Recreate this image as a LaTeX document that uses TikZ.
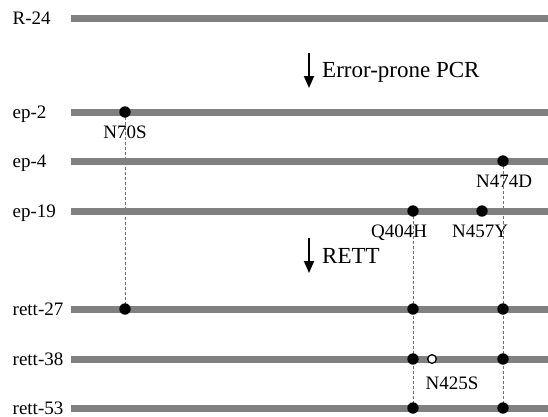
\documentclass[tikz,border=0pt]{standalone}
\usepackage{fontspec}
\setmainfont{Liberation Serif}
\usetikzlibrary{arrows.meta}
\definecolor{barc}{HTML}{808080}
\definecolor{guidec}{HTML}{707070}
\begin{document}
\begin{tikzpicture}[x=1pt,y=-1pt,
  bar/.style={line width=7pt, draw=barc},
  lbl/.style={anchor=base west, inner sep=0pt, font=\fontsize{19}{22}\selectfont},
  mut/.style={anchor=base, inner sep=0pt, font=\fontsize{19}{22}\selectfont},
  bigl/.style={anchor=base west, inner sep=0pt, font=\fontsize{23}{26}\selectfont},
  dot/.style={circle, fill=black, inner sep=0pt, minimum size=11.4pt},
  odot/.style={circle, fill=white, draw=black, line width=1.3pt, inner sep=0pt, minimum size=8.6pt},
  guide/.style={draw=guidec, line width=0.6pt, dash pattern=on 3pt off 2pt},
  flow/.style={line width=1.8pt, -{Triangle[length=12pt,width=10pt]}}]
\useasboundingbox (0,0) rectangle (548,416);
% rows
\foreach \n/\t/\y in {r24/R-24/18, ep2/ep-2/112, ep4/ep-4/161, ep19/ep-19/211, r27/rett-27/309, r38/rett-38/359, r53/rett-53/408}{
  \node[lbl] (l\n) at (12.5,\y+6.3) {\t};
  \coordinate (s\n) at (71,\y);
  \coordinate (e\n) at (548,\y);
}
% mutation positions
\coordinate (m70a) at (125,112);
\coordinate (m70b) at (125,309);
\coordinate (m474a) at (503,161);
\coordinate (m474b) at (503,309);
\coordinate (m474c) at (503,359);
\coordinate (m474d) at (503,408);
\coordinate (m404a) at (413,211);
\coordinate (m404b) at (413,309);
\coordinate (m404c) at (413,359);
\coordinate (m404d) at (413,408);
\coordinate (m457) at (482,211);
\coordinate (m425) at (432,359);
% guides
\draw[guide] (m70a) -- (m70b);
\draw[guide] (m474a) -- (m474d);
\draw[guide] (m404a) -- (m404d);
% bars
\foreach \n in {r24,ep2,ep4,ep19,r27,r38,r53}{
  \draw[bar] (s\n) -- (e\n);
}
% dots
\node[dot] (d70a) at (m70a) {};
\node[dot] (d70b) at (m70b) {};
\node[dot] (d474a) at (m474a) {};
\node[dot] (d474b) at (m474b) {};
\node[dot] (d474c) at (m474c) {};
\node[dot] (d474d) at (m474d) {};
\node[dot] (d404a) at (m404a) {};
\node[dot] (d404b) at (m404b) {};
\node[dot] (d404c) at (m404c) {};
\node[dot] (d404d) at (m404d) {};
\node[dot] (d457) at (m457) {};
\node[odot] (d425) at (m425) {};
% mutation labels
\node[mut] (t70) at (125,138) {N70S};
\node[mut] (t474) at (504,187) {N474D};
\node[mut] (t404) at (399,237) {Q404H};
\node[mut] (t457) at (480,237) {N457Y};
\node[mut] (t425) at (452,389) {N425S};
% process arrows
\coordinate (a1s) at (309,53);
\coordinate (a1e) at (309,88);
\draw[flow] (a1s) -- (a1e);
\node[bigl] (p1) at (322,77) {Error-prone PCR};
\coordinate (a2s) at (309,238);
\coordinate (a2e) at (309,273);
\draw[flow] (a2s) -- (a2e);
\node[bigl] (p2) at (322,263) {RETT};
\end{tikzpicture}
\end{document}
